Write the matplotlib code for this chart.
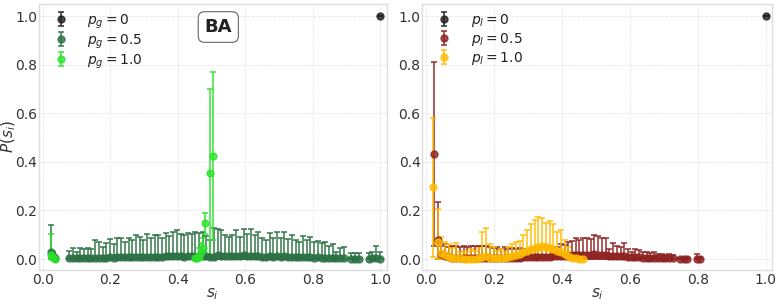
import numpy as np
import matplotlib
matplotlib.use("Agg")
import matplotlib.pyplot as plt

matplotlib.rcParams["font.family"] = "DejaVu Sans"
matplotlib.rcParams["font.size"] = 10

# ---------------- left panel (BA, p_g) ----------------
g0_s = [1.0]
g0_y = [1.0]
g0_top = [1.0]

g05_s = [0.024, 0.030, 0.035,
         0.078, 0.089, 0.100, 0.111, 0.122, 0.133, 0.144, 0.155, 0.166, 0.177,
         0.188, 0.199, 0.210, 0.221, 0.232, 0.243, 0.254, 0.265, 0.276, 0.287,
         0.298, 0.309, 0.320, 0.331, 0.342, 0.353, 0.364, 0.375, 0.386, 0.397,
         0.408, 0.419, 0.430, 0.441, 0.452, 0.463, 0.474, 0.485, 0.496, 0.507,
         0.518, 0.529, 0.540, 0.551, 0.562, 0.573, 0.584, 0.595, 0.606, 0.617,
         0.628, 0.639, 0.650, 0.661, 0.672, 0.683, 0.694, 0.705, 0.716, 0.727,
         0.738, 0.749, 0.760, 0.771, 0.782, 0.793, 0.804, 0.815, 0.826, 0.837,
         0.848, 0.859, 0.870, 0.881, 0.892,
         0.914, 0.925, 0.936, 0.966, 0.977, 0.988, 1.0]
g05_y = [0.028, 0.012, 0.003,
         0.003, 0.004, 0.003, 0.004, 0.004, 0.005, 0.004, 0.006, 0.006, 0.005, 0.006,
         0.007, 0.006, 0.008, 0.008, 0.007, 0.009, 0.008, 0.010, 0.009, 0.008, 0.010, 0.009,
         0.010, 0.010, 0.009, 0.012, 0.011, 0.012, 0.013, 0.011, 0.010, 0.012,
         0.011, 0.010, 0.012, 0.012, 0.013, 0.010, 0.009, 0.015, 0.014, 0.012,
         0.011, 0.012, 0.014, 0.011, 0.015, 0.012, 0.014, 0.012, 0.013, 0.010,
         0.009, 0.012, 0.010, 0.012, 0.010, 0.011, 0.009, 0.010, 0.008, 0.008,
         0.009, 0.007, 0.008, 0.006, 0.007, 0.006, 0.006, 0.005, 0.005, 0.003, 0.004, 0.004,
         0.002, 0.002, 0.002, 0.002, 0.003, 0.004, 0.002]
g05_top = [0.140, 0.030, 0.010,
           0.033, 0.047, 0.030, 0.045, 0.040, 0.045, 0.042, 0.078, 0.072, 0.050, 0.064,
           0.082, 0.062, 0.088, 0.085, 0.070, 0.088, 0.078, 0.100, 0.092, 0.080, 0.102, 0.088,
           0.100, 0.098, 0.085, 0.108, 0.095, 0.112, 0.118, 0.105, 0.098, 0.108,
           0.105, 0.110, 0.108, 0.112, 0.095, 0.080, 0.128, 0.125, 0.118, 0.098,
           0.092, 0.100, 0.118, 0.090, 0.125, 0.105, 0.122, 0.100, 0.112, 0.085,
           0.080, 0.108, 0.085, 0.112, 0.088, 0.110, 0.084, 0.098, 0.080, 0.072,
           0.095, 0.078, 0.090, 0.070, 0.075, 0.065, 0.072, 0.055, 0.060, 0.030, 0.045, 0.048,
           0.025, 0.025, 0.025, 0.025, 0.030, 0.055, 0.028]

g1_s = [0.024, 0.028, 0.036,
        0.452, 0.458, 0.464, 0.470, 0.476, 0.482, 0.494, 0.504]
g1_y = [0.018, 0.010, 0.002,
        0.003, 0.004, 0.010, 0.030, 0.045, 0.147, 0.355, 0.424]
g1_top = [0.103, 0.030, 0.005,
          0.005, 0.006, 0.045, 0.065, 0.085, 0.190, 0.700, 0.770]

# ---------------- right panel (p_l) ----------------
l0_s = [1.0]
l0_y = [1.0]
l0_top = [1.0]

l05_s = [0.024, 0.034,
         0.045, 0.056, 0.067, 0.078, 0.089, 0.100, 0.111, 0.122, 0.133, 0.144, 0.155,
         0.166, 0.177, 0.188, 0.199, 0.210, 0.221, 0.232, 0.243, 0.254, 0.265,
         0.276, 0.287, 0.298, 0.309, 0.320, 0.331, 0.342, 0.353, 0.364, 0.375,
         0.386, 0.397, 0.408, 0.419, 0.430, 0.441, 0.452, 0.463, 0.474, 0.485,
         0.496, 0.507, 0.518, 0.529, 0.540, 0.551, 0.562, 0.573, 0.584, 0.595,
         0.606, 0.617, 0.628, 0.639, 0.650, 0.661, 0.672, 0.683, 0.694, 0.705, 0.716, 0.727,
         0.748, 0.759, 0.770, 0.797, 0.808]
l05_y = [0.433, 0.077,
         0.020, 0.012, 0.008, 0.006, 0.005, 0.004, 0.004, 0.003, 0.003, 0.003, 0.003,
         0.003, 0.004, 0.004, 0.004, 0.005, 0.005, 0.005, 0.005, 0.006, 0.006,
         0.006, 0.007, 0.007, 0.008, 0.008, 0.009, 0.010, 0.010, 0.010, 0.011,
         0.011, 0.012, 0.013, 0.014, 0.015, 0.016, 0.016, 0.017, 0.018, 0.018,
         0.019, 0.018, 0.017, 0.016, 0.012, 0.013, 0.012, 0.011, 0.011, 0.009,
         0.008, 0.008, 0.007, 0.006, 0.006, 0.005, 0.005, 0.004, 0.004, 0.003, 0.003, 0.003,
         0.002, 0.002, 0.002, 0.002, 0.002]
l05_top = [0.812, 0.235,
           0.055, 0.060, 0.050, 0.055, 0.052, 0.050, 0.052, 0.050, 0.052, 0.053, 0.055,
           0.052, 0.055, 0.048, 0.045, 0.050, 0.042, 0.048, 0.040, 0.045, 0.042,
           0.045, 0.040, 0.042, 0.038, 0.045, 0.040, 0.050, 0.042, 0.048, 0.045,
           0.050, 0.060, 0.058, 0.071, 0.075, 0.088, 0.078, 0.085, 0.087, 0.082,
           0.100, 0.093, 0.088, 0.085, 0.041, 0.066, 0.052, 0.050, 0.066, 0.042,
           0.029, 0.040, 0.038, 0.028, 0.030, 0.025, 0.028, 0.020, 0.022, 0.018, 0.020, 0.015,
           0.006, 0.006, 0.006, 0.020, 0.008]

l1_s = [0.022, 0.034,
        0.045, 0.056, 0.067, 0.078, 0.089, 0.100, 0.111, 0.122, 0.133, 0.144, 0.155,
        0.166, 0.177, 0.188, 0.199, 0.210, 0.221, 0.232, 0.243, 0.254, 0.265,
        0.276, 0.287, 0.298, 0.309, 0.320, 0.331, 0.342, 0.353, 0.364, 0.375,
        0.386, 0.397, 0.408, 0.419, 0.430, 0.441, 0.452, 0.463]
l1_y = [0.295, 0.070,
        0.025, 0.015, 0.010, 0.006, 0.004, 0.003, 0.002, 0.002, 0.002, 0.002, 0.003,
        0.010, 0.012, 0.006, 0.005, 0.004, 0.005, 0.005, 0.008, 0.012, 0.018,
        0.022, 0.028, 0.034, 0.040, 0.045, 0.050, 0.052, 0.048, 0.045, 0.040,
        0.032, 0.028, 0.020, 0.012, 0.006, 0.004, 0.002, 0.001]
l1_top = [0.581, 0.205,
          0.090, 0.070, 0.060, 0.045, 0.065, 0.030, 0.035, 0.030, 0.040, 0.035, 0.045,
          0.110, 0.128, 0.060, 0.050, 0.035, 0.040, 0.030, 0.050, 0.060, 0.070,
          0.075, 0.100, 0.120, 0.145, 0.160, 0.172, 0.170, 0.150, 0.158, 0.145,
          0.110, 0.118, 0.077, 0.050, 0.030, 0.020, 0.010, 0.005]

ticks = [0.0, 0.2, 0.4, 0.6, 0.8, 1.0]


def draw_series(ax, s, y, top, color, label):
    y = np.array(y)
    err = np.array(top) - y
    # lower whisker stops at zero
    low = np.minimum(err, y)
    ax.errorbar(s, y, yerr=[low, err], fmt="o", color=color, ecolor=color,
                markersize=5, elinewidth=1.3, capsize=2.5, capthick=1.3,
                alpha=0.8, label=label)


fig = plt.figure(figsize=(7.77, 3.04), dpi=100)
ax1 = fig.add_axes([0.050, 0.112, 0.448, 0.875])
ax2 = fig.add_axes([0.543, 0.112, 0.451, 0.875])

draw_series(ax1, g0_s, g0_y, g0_top, "#1e1e1e", r"$p_g = 0$")
draw_series(ax1, g05_s, g05_y, g05_top, "#2a7042", r"$p_g = 0.5$")
draw_series(ax1, g1_s, g1_y, g1_top, "#2be32b", r"$p_g = 1.0$")

draw_series(ax2, l0_s, l0_y, l0_top, "#1e1e1e", r"$p_l = 0$")
draw_series(ax2, l05_s, l05_y, l05_top, "#8e2222", r"$p_l = 0.5$")
draw_series(ax2, l1_s, l1_y, l1_top, "#ffbb00", r"$p_l = 1.0$")

for ax in (ax1, ax2):
    ax.set_xlim(-0.012, 1.02)
    ax.set_ylim(-0.045, 1.05)
    ax.set_xticks(ticks)
    ax.set_yticks(ticks)
    ax.grid(True, color="#e8e8e8", linestyle="--", linewidth=0.6)
    ax.set_axisbelow(True)
    ax.tick_params(length=0, labelsize=10, colors="#333333", pad=2)
    ax.tick_params(axis="y", pad=1)
    for sp in ax.spines.values():
        sp.set_color("#dddddd")
        sp.set_linewidth(1.0)
    ax.set_xlabel(r"$s_i$", fontsize=11, color="#333333", labelpad=0)
    leg = ax.legend(loc="upper left", frameon=False, fontsize=10,
                    handletextpad=0.9, borderaxespad=0.3, labelspacing=0.12,
                    borderpad=0.3)
    for t in leg.get_texts():
        t.set_color("#222222")

ax1.set_ylabel(r"$P(s_i)$", fontsize=11, color="#333333")
ax1.yaxis.set_label_coords(-0.06, 0.5)
ax1.text(0.52, 0.955, "BA", fontsize=13, fontweight="bold", color="#222222",
         ha="center", va="center",
         bbox=dict(boxstyle="round,pad=0.35", facecolor="white", edgecolor="#666666", linewidth=0.8))

fig.savefig("out.png", dpi=100)
